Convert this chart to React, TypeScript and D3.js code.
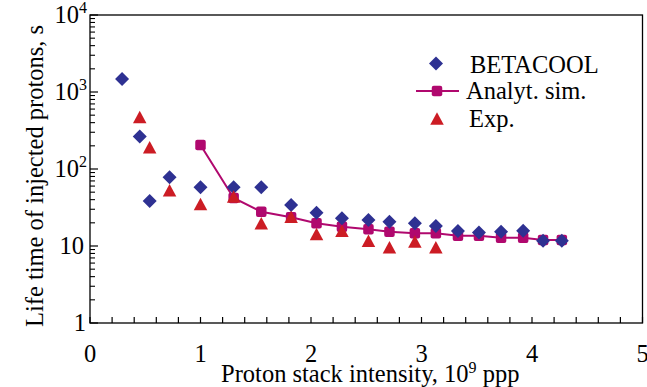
import React from "react";
import * as d3 from "d3";

// Proton stack intensity (10^9 ppp) and life time (s)
const betacoolX = [0.29, 0.45, 0.54, 0.72, 1.0, 1.3, 1.55, 1.82, 2.05, 2.28, 2.52, 2.71, 2.94, 3.13, 3.33, 3.52, 3.72, 3.92, 4.1, 4.27];
const betacoolY = [1480, 265, 38.5, 78, 58, 58, 58, 34, 27, 22.9, 21.8, 20.7, 19.7, 18.2, 15.7, 15.0, 15.3, 15.8, 11.7, 11.7];

const analytX = [1.0, 1.3, 1.55, 1.82, 2.05, 2.28, 2.52, 2.71, 2.94, 3.13, 3.33, 3.52, 3.72, 3.92, 4.1, 4.27];
const analytY = [205, 42, 27.9, 23.6, 19.7, 17.8, 16.5, 15.3, 14.6, 14.6, 13.6, 13.6, 12.8, 12.8, 12.0, 12.0];

const expX = [0.45, 0.54, 0.72, 1.0, 1.3, 1.55, 1.82, 2.05, 2.28, 2.52, 2.71, 2.94, 3.13];
const expY = [473, 191, 53, 35, 44, 19.7, 24, 14.3, 15.8, 11.7, 9.6, 11.4, 9.6];

const xTickLabels = ["0", "1", "2", "3", "4", "5"];
const yTickExponents = [0, 1, 2, 3, 4];

const legendLabels = ["BETACOOL", "Analyt. sim.", "Exp."];

const W = 647;
const H = 387;
const M = { left: 90, right: 4.5, top: 15, bottom: 64 };

const BLUE = "#2e3192";
const MAGENTA = "#b0086e";
const RED = "#cc1c24";
const FONT = "Liberation Serif, Times New Roman, Times, serif";
const FS = 24.5;
const SUP = 16;

const diamond = (cx: number, cy: number, r = 7) =>
  `M${cx},${cy - r}L${cx + r},${cy}L${cx},${cy + r}L${cx - r},${cy}Z`;
const triangle = (cx: number, cy: number, w = 13.5, h = 12.5) =>
  `M${cx},${cy - h / 2}L${cx + w / 2},${cy + h / 2}L${cx - w / 2},${cy + h / 2}Z`;

function Square({ cx, cy }: { cx: number; cy: number }) {
  const s = 10.5;
  return <rect x={cx - s / 2} y={cy - s / 2} width={s} height={s} rx={2} fill={MAGENTA} />;
}

const txt: React.CSSProperties = { fontFamily: FONT };

export default function App() {
  const x = d3.scaleLinear().domain([0, 5]).range([M.left, W - M.right]);
  const y = d3.scaleLog().domain([1, 1e4]).range([H - M.bottom, M.top]);

  const xMinor = d3.range(0, 5.0001, 0.2);
  const yMinor: number[] = [];
  for (let e = 0; e < 4; e++) for (let k = 2; k <= 9; k++) yMinor.push(k * Math.pow(10, e));

  const line = d3
    .line<number>()
    .x((_, i) => x(analytX[i]))
    .y((v) => y(v));

  const x0 = x(0), x1 = x(5), yb = y(1), yt = y(1e4);

  return (
    <svg width={W} height={H} style={{ position: "absolute", left: 0, top: 0 }}>
      <rect width={W} height={H} fill="#fff" />
      {/* frame */}
      <rect x={x0} y={yt} width={x1 - x0} height={yb - yt} fill="none" stroke="#000" strokeWidth={1.3} />

      {/* x ticks */}
      {xMinor.map((v, i) => (
        <line key={"xm" + i} x1={x(v)} x2={x(v)} y1={yb} y2={yb - 6} stroke="#000" strokeWidth={1.2} />
      ))}
      {xTickLabels.map((t, i) => (
        <text key={"xl" + i} x={x(i)} y={362} fontSize={FS} textAnchor="middle" fill="#000" style={txt}>
          {t}
        </text>
      ))}
      <text x={(x0 + x1) / 2 + 4} y={382} fontSize={FS} textAnchor="middle" fill="#000" style={txt}>
        Proton stack intensity, 10<tspan dy={-9} fontSize={SUP}>9</tspan>
        <tspan dy={9}> ppp</tspan>
      </text>

      {/* y ticks */}
      {yMinor.map((v, i) => (
        <line key={"ym" + i} x1={x0} x2={x0 + 5} y1={y(v)} y2={y(v)} stroke="#000" strokeWidth={1.1} />
      ))}
      {yTickExponents.map((e) => (
        <line key={"yM" + e} x1={x0} x2={x0 + 8} y1={y(Math.pow(10, e))} y2={y(Math.pow(10, e))} stroke="#000" strokeWidth={1.2} />
      ))}
      {yTickExponents.map((e) => {
        const yy = y(Math.pow(10, e)) + 8;
        if (e === 0) return <text key={"yl" + e} x={86} y={yy} fontSize={FS} textAnchor="end" style={txt}>1</text>;
        if (e === 1) return <text key={"yl" + e} x={84} y={yy} fontSize={FS} textAnchor="end" style={txt}>10</text>;
        return (
          <text key={"yl" + e} x={87} y={yy} fontSize={FS} textAnchor="end" style={txt}>
            10<tspan dy={-10} fontSize={SUP}>{e}</tspan>
          </text>
        );
      })}
      <text
        transform={`translate(43,${176}) rotate(-90)`}
        fontSize={FS}
        textAnchor="middle"
        fill="#000"
        style={txt}
      >
        Life time of injected protons, s
      </text>

      {/* Analytical simulation */}
      <path d={line(analytY) || ""} fill="none" stroke={MAGENTA} strokeWidth={2} />
      {analytY.map((v, i) => (
        <Square key={"a" + i} cx={x(analytX[i])} cy={y(v)} />
      ))}
      {/* BETACOOL */}
      {betacoolY.map((v, i) => (
        <path key={"b" + i} d={diamond(x(betacoolX[i]), y(v))} fill={BLUE} />
      ))}
      {/* Experiment */}
      {expY.map((v, i) => (
        <path key={"e" + i} d={triangle(x(expX[i]), y(v))} fill={RED} />
      ))}

      {/* legend */}
      <path d={diamond(436, 63.5)} fill={BLUE} />
      <text x={470} y={73} fontSize={FS} style={txt}>{legendLabels[0]}</text>
      <line x1={416} x2={459} y1={91} y2={91} stroke={MAGENTA} strokeWidth={2} />
      <Square cx={437} cy={91} />
      <text x={466} y={99} fontSize={FS} style={txt}>{legendLabels[1]}</text>
      <path d={triangle(437, 118.5)} fill={RED} />
      <text x={469} y={126.5} fontSize={FS} style={txt}>{legendLabels[2]}</text>
    </svg>
  );
}
